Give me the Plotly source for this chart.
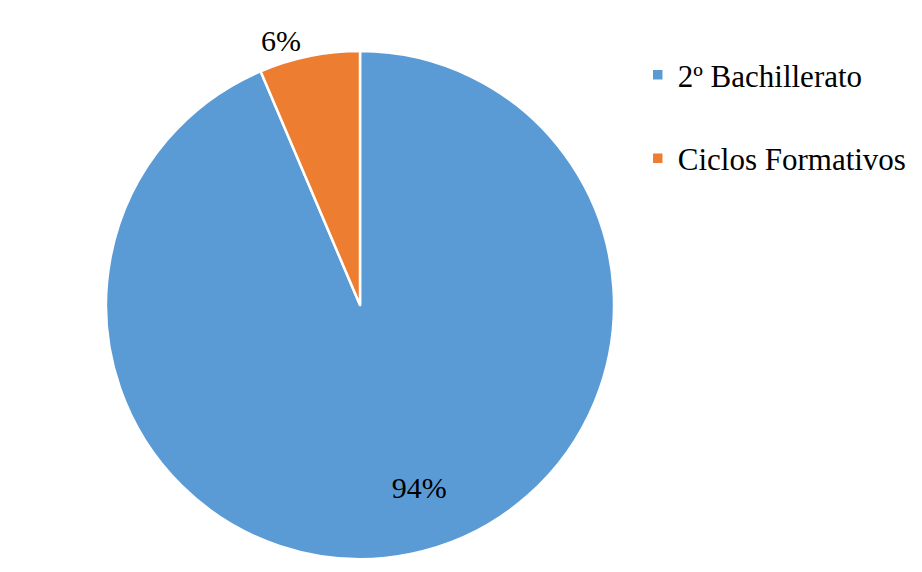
import plotly.graph_objects as go

labels = ["2º Bachillerato", "Ciclos Formativos"]
values = [93.6, 6.4]
colors = ["#5B9BD5", "#ED7D31"]
text_positions = ["inside", "outside"]

NB = "\u00a0"
legend_labels = [l + "<br> " for l in labels]
# spacing lines / non-breaking spaces nudge the labels to where the reference has them
text_templates = [
    (NB + "<br>") * 3 + NB * 9 + "%{percent:.0%}",
    NB * 6 + "%{percent:.0%}",
]

fig = go.Figure(go.Pie(
    labels=legend_labels,
    values=values,
    sort=False,
    direction="clockwise",
    rotation=0,
    marker=dict(colors=colors, line=dict(color="white", width=2.5)),
    texttemplate=text_templates,
    textposition=text_positions,
    textfont=dict(family="Liberation Serif", size=30, color="black"),
    insidetextorientation="horizontal",
    domain=dict(x=[0.1063, 0.6573], y=[0.0367, 0.9248]),
    hoverinfo="label+percent",
))

fig.update_layout(
    width=922, height=572,
    margin=dict(l=0, r=0, t=0, b=0),
    paper_bgcolor="white",
    plot_bgcolor="white",
    font=dict(family="Liberation Serif", color="black"),
    legend=dict(
        x=0.683, y=0.93, xanchor="left", yanchor="top",
        valign="top",
        font=dict(family="Liberation Serif", size=31, color="black"),
        itemwidth=30,
    ),
)

fig.write_html("out.html")
